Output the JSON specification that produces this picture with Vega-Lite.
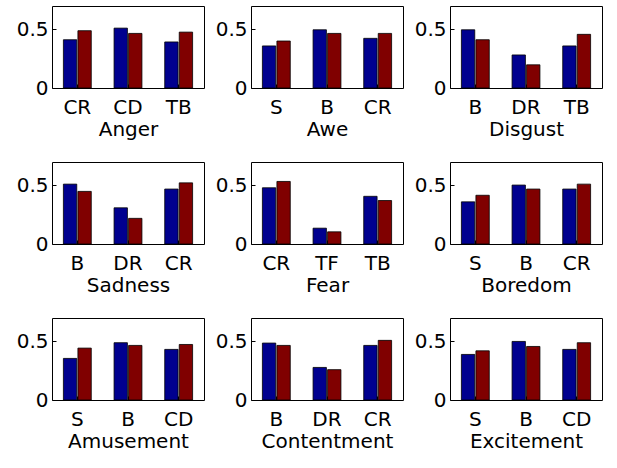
{
  "$schema": "https://vega.github.io/schema/vega-lite/v6.json",
  "padding": {"left": 15, "top": 5, "right": 0, "bottom": 0},
  "background": "white",
  "data": {"values": [
    {"emotion": "Anger", "cat": "CR", "ord": 1, "series": "A", "value": 0.412},
    {"emotion": "Anger", "cat": "CR", "ord": 1, "series": "B", "value": 0.489},
    {"emotion": "Anger", "cat": "CD", "ord": 2, "series": "A", "value": 0.511},
    {"emotion": "Anger", "cat": "CD", "ord": 2, "series": "B", "value": 0.466},
    {"emotion": "Anger", "cat": "TB", "ord": 3, "series": "A", "value": 0.393},
    {"emotion": "Anger", "cat": "TB", "ord": 3, "series": "B", "value": 0.477},
    {"emotion": "Awe", "cat": "S", "ord": 1, "series": "A", "value": 0.359},
    {"emotion": "Awe", "cat": "S", "ord": 1, "series": "B", "value": 0.401},
    {"emotion": "Awe", "cat": "B", "ord": 2, "series": "A", "value": 0.497},
    {"emotion": "Awe", "cat": "B", "ord": 2, "series": "B", "value": 0.466},
    {"emotion": "Awe", "cat": "CR", "ord": 3, "series": "A", "value": 0.424},
    {"emotion": "Awe", "cat": "CR", "ord": 3, "series": "B", "value": 0.466},
    {"emotion": "Disgust", "cat": "B", "ord": 1, "series": "A", "value": 0.497},
    {"emotion": "Disgust", "cat": "B", "ord": 1, "series": "B", "value": 0.412},
    {"emotion": "Disgust", "cat": "DR", "ord": 2, "series": "A", "value": 0.282},
    {"emotion": "Disgust", "cat": "DR", "ord": 2, "series": "B", "value": 0.198},
    {"emotion": "Disgust", "cat": "TB", "ord": 3, "series": "A", "value": 0.359},
    {"emotion": "Disgust", "cat": "TB", "ord": 3, "series": "B", "value": 0.458},
    {"emotion": "Sadness", "cat": "B", "ord": 1, "series": "A", "value": 0.511},
    {"emotion": "Sadness", "cat": "B", "ord": 1, "series": "B", "value": 0.449},
    {"emotion": "Sadness", "cat": "DR", "ord": 2, "series": "A", "value": 0.309},
    {"emotion": "Sadness", "cat": "DR", "ord": 2, "series": "B", "value": 0.219},
    {"emotion": "Sadness", "cat": "CR", "ord": 3, "series": "A", "value": 0.469},
    {"emotion": "Sadness", "cat": "CR", "ord": 3, "series": "B", "value": 0.522},
    {"emotion": "Fear", "cat": "CR", "ord": 1, "series": "A", "value": 0.480},
    {"emotion": "Fear", "cat": "CR", "ord": 1, "series": "B", "value": 0.534},
    {"emotion": "Fear", "cat": "TF", "ord": 2, "series": "A", "value": 0.135},
    {"emotion": "Fear", "cat": "TF", "ord": 2, "series": "B", "value": 0.104},
    {"emotion": "Fear", "cat": "TB", "ord": 3, "series": "A", "value": 0.407},
    {"emotion": "Fear", "cat": "TB", "ord": 3, "series": "B", "value": 0.371},
    {"emotion": "Boredom", "cat": "S", "ord": 1, "series": "A", "value": 0.360},
    {"emotion": "Boredom", "cat": "S", "ord": 1, "series": "B", "value": 0.416},
    {"emotion": "Boredom", "cat": "B", "ord": 2, "series": "A", "value": 0.503},
    {"emotion": "Boredom", "cat": "B", "ord": 2, "series": "B", "value": 0.469},
    {"emotion": "Boredom", "cat": "CR", "ord": 3, "series": "A", "value": 0.469},
    {"emotion": "Boredom", "cat": "CR", "ord": 3, "series": "B", "value": 0.511},
    {"emotion": "Amusement", "cat": "S", "ord": 1, "series": "A", "value": 0.355},
    {"emotion": "Amusement", "cat": "S", "ord": 1, "series": "B", "value": 0.443},
    {"emotion": "Amusement", "cat": "B", "ord": 2, "series": "A", "value": 0.489},
    {"emotion": "Amusement", "cat": "B", "ord": 2, "series": "B", "value": 0.466},
    {"emotion": "Amusement", "cat": "CD", "ord": 3, "series": "A", "value": 0.432},
    {"emotion": "Amusement", "cat": "CD", "ord": 3, "series": "B", "value": 0.474},
    {"emotion": "Contentment", "cat": "B", "ord": 1, "series": "A", "value": 0.486},
    {"emotion": "Contentment", "cat": "B", "ord": 1, "series": "B", "value": 0.466},
    {"emotion": "Contentment", "cat": "DR", "ord": 2, "series": "A", "value": 0.278},
    {"emotion": "Contentment", "cat": "DR", "ord": 2, "series": "B", "value": 0.259},
    {"emotion": "Contentment", "cat": "CR", "ord": 3, "series": "A", "value": 0.466},
    {"emotion": "Contentment", "cat": "CR", "ord": 3, "series": "B", "value": 0.509},
    {"emotion": "Excitement", "cat": "S", "ord": 1, "series": "A", "value": 0.389},
    {"emotion": "Excitement", "cat": "S", "ord": 1, "series": "B", "value": 0.420},
    {"emotion": "Excitement", "cat": "B", "ord": 2, "series": "A", "value": 0.500},
    {"emotion": "Excitement", "cat": "B", "ord": 2, "series": "B", "value": 0.457},
    {"emotion": "Excitement", "cat": "CD", "ord": 3, "series": "A", "value": 0.432},
    {"emotion": "Excitement", "cat": "CD", "ord": 3, "series": "B", "value": 0.489}
  ]},
  "columns": 3,
  "spacing": {"column": 9, "row": 21},
  "concat": [
    {"transform": [{"filter": "datum.emotion === 'Anger'"}], "width": 152, "height": 82, "mark": {"type": "bar", "stroke": "black", "strokeWidth": 0.8},
     "encoding": {"x": {"field": "cat", "type": "nominal", "sort": {"field": "ord", "op": "min"}, "title": "Anger", "scale": {"paddingInner": 0.45, "paddingOuter": 0.225}},
      "xOffset": {"field": "series", "type": "nominal", "scale": {"paddingInner": 0.08}},
      "y": {"field": "value", "type": "quantitative", "scale": {"domain": [0, 0.7]}, "axis": {"values": [0, 0.5], "format": "~g", "title": null}},
      "color": {"field": "series", "type": "nominal", "scale": {"range": ["#00008F", "#800000"]}, "legend": null}}},
    {"transform": [{"filter": "datum.emotion === 'Awe'"}], "width": 152, "height": 82, "mark": {"type": "bar", "stroke": "black", "strokeWidth": 0.8},
     "encoding": {"x": {"field": "cat", "type": "nominal", "sort": {"field": "ord", "op": "min"}, "title": "Awe", "scale": {"paddingInner": 0.45, "paddingOuter": 0.225}},
      "xOffset": {"field": "series", "type": "nominal", "scale": {"paddingInner": 0.08}},
      "y": {"field": "value", "type": "quantitative", "scale": {"domain": [0, 0.7]}, "axis": {"values": [0, 0.5], "format": "~g", "title": null}},
      "color": {"field": "series", "type": "nominal", "scale": {"range": ["#00008F", "#800000"]}, "legend": null}}},
    {"transform": [{"filter": "datum.emotion === 'Disgust'"}], "width": 152, "height": 82, "mark": {"type": "bar", "stroke": "black", "strokeWidth": 0.8},
     "encoding": {"x": {"field": "cat", "type": "nominal", "sort": {"field": "ord", "op": "min"}, "title": "Disgust", "scale": {"paddingInner": 0.45, "paddingOuter": 0.225}},
      "xOffset": {"field": "series", "type": "nominal", "scale": {"paddingInner": 0.08}},
      "y": {"field": "value", "type": "quantitative", "scale": {"domain": [0, 0.7]}, "axis": {"values": [0, 0.5], "format": "~g", "title": null}},
      "color": {"field": "series", "type": "nominal", "scale": {"range": ["#00008F", "#800000"]}, "legend": null}}},
    {"transform": [{"filter": "datum.emotion === 'Sadness'"}], "width": 152, "height": 82, "mark": {"type": "bar", "stroke": "black", "strokeWidth": 0.8},
     "encoding": {"x": {"field": "cat", "type": "nominal", "sort": {"field": "ord", "op": "min"}, "title": "Sadness", "scale": {"paddingInner": 0.45, "paddingOuter": 0.225}},
      "xOffset": {"field": "series", "type": "nominal", "scale": {"paddingInner": 0.08}},
      "y": {"field": "value", "type": "quantitative", "scale": {"domain": [0, 0.7]}, "axis": {"values": [0, 0.5], "format": "~g", "title": null}},
      "color": {"field": "series", "type": "nominal", "scale": {"range": ["#00008F", "#800000"]}, "legend": null}}},
    {"transform": [{"filter": "datum.emotion === 'Fear'"}], "width": 152, "height": 82, "mark": {"type": "bar", "stroke": "black", "strokeWidth": 0.8},
     "encoding": {"x": {"field": "cat", "type": "nominal", "sort": {"field": "ord", "op": "min"}, "title": "Fear", "scale": {"paddingInner": 0.45, "paddingOuter": 0.225}},
      "xOffset": {"field": "series", "type": "nominal", "scale": {"paddingInner": 0.08}},
      "y": {"field": "value", "type": "quantitative", "scale": {"domain": [0, 0.7]}, "axis": {"values": [0, 0.5], "format": "~g", "title": null}},
      "color": {"field": "series", "type": "nominal", "scale": {"range": ["#00008F", "#800000"]}, "legend": null}}},
    {"transform": [{"filter": "datum.emotion === 'Boredom'"}], "width": 152, "height": 82, "mark": {"type": "bar", "stroke": "black", "strokeWidth": 0.8},
     "encoding": {"x": {"field": "cat", "type": "nominal", "sort": {"field": "ord", "op": "min"}, "title": "Boredom", "scale": {"paddingInner": 0.45, "paddingOuter": 0.225}},
      "xOffset": {"field": "series", "type": "nominal", "scale": {"paddingInner": 0.08}},
      "y": {"field": "value", "type": "quantitative", "scale": {"domain": [0, 0.7]}, "axis": {"values": [0, 0.5], "format": "~g", "title": null}},
      "color": {"field": "series", "type": "nominal", "scale": {"range": ["#00008F", "#800000"]}, "legend": null}}},
    {"transform": [{"filter": "datum.emotion === 'Amusement'"}], "width": 152, "height": 82, "mark": {"type": "bar", "stroke": "black", "strokeWidth": 0.8},
     "encoding": {"x": {"field": "cat", "type": "nominal", "sort": {"field": "ord", "op": "min"}, "title": "Amusement", "scale": {"paddingInner": 0.45, "paddingOuter": 0.225}},
      "xOffset": {"field": "series", "type": "nominal", "scale": {"paddingInner": 0.08}},
      "y": {"field": "value", "type": "quantitative", "scale": {"domain": [0, 0.7]}, "axis": {"values": [0, 0.5], "format": "~g", "title": null}},
      "color": {"field": "series", "type": "nominal", "scale": {"range": ["#00008F", "#800000"]}, "legend": null}}},
    {"transform": [{"filter": "datum.emotion === 'Contentment'"}], "width": 152, "height": 82, "mark": {"type": "bar", "stroke": "black", "strokeWidth": 0.8},
     "encoding": {"x": {"field": "cat", "type": "nominal", "sort": {"field": "ord", "op": "min"}, "title": "Contentment", "scale": {"paddingInner": 0.45, "paddingOuter": 0.225}},
      "xOffset": {"field": "series", "type": "nominal", "scale": {"paddingInner": 0.08}},
      "y": {"field": "value", "type": "quantitative", "scale": {"domain": [0, 0.7]}, "axis": {"values": [0, 0.5], "format": "~g", "title": null}},
      "color": {"field": "series", "type": "nominal", "scale": {"range": ["#00008F", "#800000"]}, "legend": null}}},
    {"transform": [{"filter": "datum.emotion === 'Excitement'"}], "width": 152, "height": 82, "mark": {"type": "bar", "stroke": "black", "strokeWidth": 0.8},
     "encoding": {"x": {"field": "cat", "type": "nominal", "sort": {"field": "ord", "op": "min"}, "title": "Excitement", "scale": {"paddingInner": 0.45, "paddingOuter": 0.225}},
      "xOffset": {"field": "series", "type": "nominal", "scale": {"paddingInner": 0.08}},
      "y": {"field": "value", "type": "quantitative", "scale": {"domain": [0, 0.7]}, "axis": {"values": [0, 0.5], "format": "~g", "title": null}},
      "color": {"field": "series", "type": "nominal", "scale": {"range": ["#00008F", "#800000"]}, "legend": null}}}
  ],
  "config": {
    "font": "DejaVu Sans",
    "view": {"stroke": "black", "strokeWidth": 1},
    "axis": {"grid": false, "domain": false, "ticks": true, "tickSize": -4, "tickColor": "black", "labelPadding": 8, "labelFont": "DejaVu Sans", "labelFontSize": 20, "labelColor": "black", "titleFont": "DejaVu Sans", "titleFontSize": 20, "titleFontWeight": "normal", "titleColor": "black", "titlePadding": 2},
    "axisX": {"labelAngle": 0, "labelPadding": 13}
  }
}
